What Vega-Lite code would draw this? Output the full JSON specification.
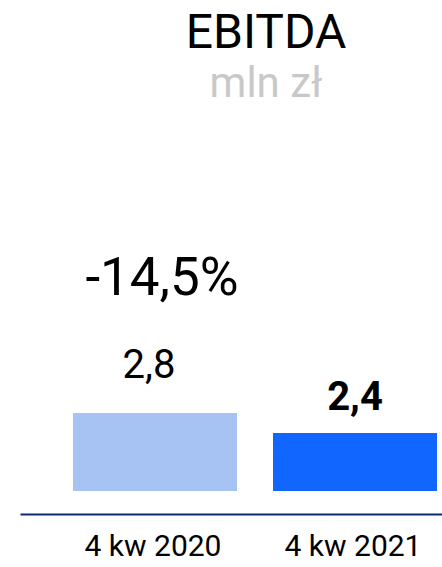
{
  "$schema": "https://vega.github.io/schema/vega-lite/v6.json",
  "width": 422,
  "height": 380,
  "padding": {"left": 20, "right": 0, "top": 10, "bottom": 0},
  "background": "white",
  "config": {"view": {"stroke": null}, "font": "Roboto"},
  "title": {
    "text": "EBITDA",
    "subtitle": "mln zł",
    "font": "Roboto",
    "fontSize": 48,
    "fontWeight": "normal",
    "color": "#000000",
    "subtitleFont": "Roboto",
    "subtitleFontSize": 42,
    "subtitleColor": "#c8c8c8",
    "subtitlePadding": 6,
    "anchor": "middle",
    "dx": 35,
    "offset": 29
  },
  "data": {
    "values": [
      {"period": "4 kw 2020", "value": 2.8, "label": "2,8", "change": "-14,5%"},
      {"period": "4 kw 2021", "value": 2.4, "label": "2,4", "change": ""}
    ]
  },
  "encoding": {
    "x": {
      "field": "period",
      "type": "nominal",
      "sort": null,
      "scale": {"paddingInner": 0.18, "paddingOuter": 0.145, "align": 0.914},
      "axis": {
        "title": null,
        "labelAngle": 0,
        "ticks": false,
        "domainColor": "#0a2a72",
        "domainWidth": 2,
        "labelFont": "Roboto",
        "labelFontSize": 30,
        "labelColor": "#000000",
        "labelBaseline": "alphabetic",
        "labelPadding": 41,
        "labelOffset": -2
      }
    },
    "y": {
      "field": "value",
      "type": "quantitative",
      "scale": {"domain": [0.78, 8.38], "zero": false, "nice": false},
      "axis": null
    }
  },
  "layer": [
    {
      "mark": {"type": "bar"},
      "encoding": {
        "y2": {"datum": 1.24},
        "color": {
          "field": "period",
          "type": "nominal",
          "scale": {"range": ["#a6c3f3", "#1066ff"]},
          "legend": null
        }
      }
    },
    {
      "transform": [{"filter": "datum.period == '4 kw 2020'"}],
      "mark": {"type": "text", "fontSize": 40, "font": "Roboto", "baseline": "alphabetic", "dy": -35, "dx": -6, "color": "#000000"},
      "encoding": {"text": {"field": "label"}}
    },
    {
      "transform": [{"filter": "datum.period == '4 kw 2021'"}],
      "mark": {"type": "text", "fontSize": 40, "font": "Roboto", "fontWeight": "bold", "baseline": "alphabetic", "dy": -23, "dx": 0, "color": "#000000"},
      "encoding": {"text": {"field": "label"}}
    },
    {
      "transform": [{"filter": "datum.period == '4 kw 2020'"}],
      "mark": {"type": "text", "fontSize": 53, "font": "Roboto", "baseline": "alphabetic", "dy": -118, "dx": 7, "color": "#000000"},
      "encoding": {"text": {"field": "change"}}
    }
  ]
}
